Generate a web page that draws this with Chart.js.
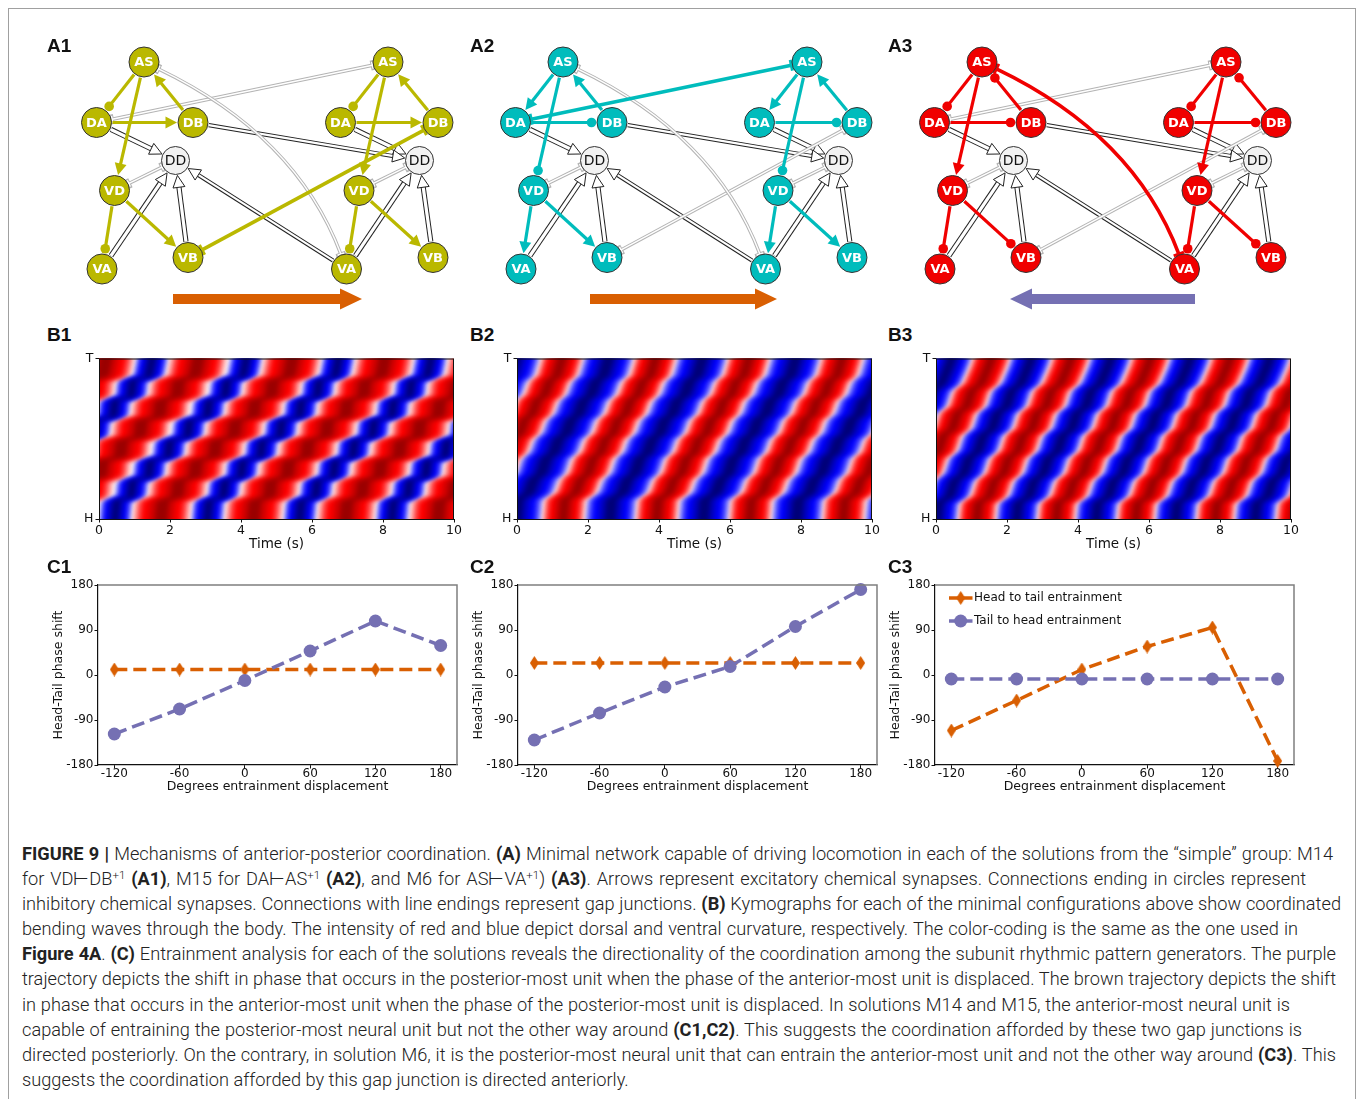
<!DOCTYPE html>
<html>
<head>
<meta charset="utf-8">
<script src="https://cdn.jsdelivr.net/npm/chart.js@4.4.1/dist/chart.umd.min.js"></script>
<style>
  body { margin: 0; background: #fff; width: 1358px; height: 1099px; overflow: hidden; position: relative; }
  .frame { position: absolute; left: 8px; top: 8px; width: 1346px; height: 1200px; border: 1px solid #a0a0a0; }
  .lbl { position: absolute; font: bold 19px 'Liberation Sans', Arial, sans-serif; line-height: 19px; color: #111; }
  canvas { position: absolute; }
  .cap { position: absolute; left: 22px; top: 841px; font: 300 18.2px Roboto, 'Liberation Sans', sans-serif; line-height: 25.1px; color: #222; }
  .cap div { white-space: nowrap; text-align: justify; text-align-last: justify; height: 25.1px; }
  .cap div.last { text-align-last: left; }
  .cap b { font-weight: 700; }
  .cap sup { font-size: 11.5px; line-height: 0; vertical-align: 6px; }
</style>
</head>
<body>
<div class="frame"></div>

<canvas id="a1" width="420" height="285" style="left:40px;top:30px"></canvas>
<canvas id="a2" width="420" height="285" style="left:459px;top:30px"></canvas>
<canvas id="a3" width="420" height="285" style="left:878px;top:30px"></canvas>
<canvas id="b1"></canvas>
<canvas id="b2"></canvas>
<canvas id="b3"></canvas>
<canvas id="c1"></canvas>
<canvas id="c2"></canvas>
<canvas id="c3"></canvas>

<div class="lbl" style="left:47px;top:36px">A1</div>
<div class="lbl" style="left:470px;top:36px">A2</div>
<div class="lbl" style="left:888px;top:36px">A3</div>
<div class="lbl" style="left:47px;top:325px">B1</div>
<div class="lbl" style="left:470px;top:325px">B2</div>
<div class="lbl" style="left:888px;top:325px">B3</div>
<div class="lbl" style="left:47px;top:557px">C1</div>
<div class="lbl" style="left:470px;top:557px">C2</div>
<div class="lbl" style="left:888px;top:557px">C3</div>

<div class="cap">
<div style="width:1311px"><b>FIGURE 9 |</b> Mechanisms of anterior-posterior coordination. <b>(A)</b> Minimal network capable of driving locomotion in each of the solutions from the “simple” group: M14</div>
<div style="width:1284px">for VD⊢DB<sup>+1</sup> <b>(A1)</b>, M15 for DA⊢AS<sup>+1</sup> <b>(A2)</b>, and M6 for AS⊢VA<sup>+1</sup>) <b>(A3)</b>. Arrows represent excitatory chemical synapses. Connections ending in circles represent</div>
<div style="width:1319px">inhibitory chemical synapses. Connections with line endings represent gap junctions. <b>(B)</b> Kymographs for each of the minimal configurations above show coordinated</div>
<div style="width:1276px">bending waves through the body. The intensity of red and blue depict dorsal and ventral curvature, respectively. The color-coding is the same as the one used in</div>
<div style="width:1314px"><b>Figure 4A</b>. <b>(C)</b> Entrainment analysis for each of the solutions reveals the directionality of the coordination among the subunit rhythmic pattern generators. The purple</div>
<div style="width:1314px">trajectory depicts the shift in phase that occurs in the posterior-most unit when the phase of the anterior-most unit is displaced. The brown trajectory depicts the shift</div>
<div style="width:1268px">in phase that occurs in the anterior-most unit when the phase of the posterior-most unit is displaced. In solutions M14 and M15, the anterior-most neural unit is</div>
<div style="width:1280px">capable of entraining the posterior-most neural unit but not the other way around <b>(C1,C2)</b>. This suggests the coordination afforded by these two gap junctions is</div>
<div style="width:1314px">directed posteriorly. On the contrary, in solution M6, it is the posterior-most neural unit that can entrain the anterior-most unit and not the other way around <b>(C3)</b>. This</div>
<div class="last">suggests the coordination afforded by this gap junction is directed anteriorly.</div>
</div>

<script>
// ---------- network (A) ----------
const nodeNames = ['AS', 'DA', 'DB', 'DD', 'VD', 'VA', 'VB', 'AS2', 'DA2', 'DB2', 'DD2', 'VD2', 'VA2', 'VB2'];
const nodeLabels = ['AS', 'DA', 'DB', 'DD', 'VD', 'VA', 'VB', 'AS', 'DA', 'DB', 'DD', 'VD', 'VA', 'VB'];
const nodeX = [104, 56.5, 153, 135.5, 74.5, 62, 148, 348, 300.5, 398, 379.5, 319, 306.5, 393];
const nodeY = [32, 92.5, 92.5, 130.5, 160.5, 239, 227.5, 32, 92.5, 92.5, 130.5, 160.5, 239, 227.5];

const hollowEdges = [['DA', 'DD'], ['VA', 'DD'], ['VB', 'DD'], ['DA2', 'DD2'], ['VA2', 'DD2'], ['VB2', 'DD2']];
const longHollowEdges = [['DB', 'DD2'], ['VA2', 'DD']];
const grayGapEdges = [['VD', 'DD'], ['VD2', 'DD2']];
const crossGaps = [['DA', 'AS2'], ['VB', 'DB2'], ['AS', 'VA2']];
const crossVia = [null, null, [256, 105]];

const a1Synapses = [['AS', 'DA', 'inh'], ['AS', 'VD', 'exc'], ['DB', 'AS', 'exc'], ['DA', 'DB', 'exc'], ['VD', 'VA', 'inh'], ['VD', 'VB', 'exc']];
const a2Synapses = [['AS', 'DA', 'exc'], ['AS', 'VD', 'inh'], ['DB', 'AS', 'exc'], ['DA', 'DB', 'inh'], ['VD', 'VA', 'exc'], ['VD', 'VB', 'exc']];
const a3Synapses = [['AS', 'DA', 'inh'], ['AS', 'VD', 'exc'], ['DB', 'AS', 'inh'], ['DA', 'DB', 'inh'], ['VD', 'VA', 'inh'], ['VD', 'VB', 'inh']];
const crossActive = [1, 0, 2];   // which inter-unit gap junction is part of the minimal network

const dirTail = [133, 131, 317];
const dirTip = [322, 318, 132];
const dirY = 269;

// ---------- kymographs (B) ----------
const b1RedStarts = [-3.5, -0.9, 1.75, 4.35, 6.95, 9.55];
const b1BlueStarts = [-4.8, -2.2, 0.45, 3.05, 5.65, 8.25];
const b1Delay = [[0, 0], [0.11, 0.05], [0.14, 0.45], [0.235, 0.5], [0.265, 0.95], [0.36, 1.0], [0.39, 1.5], [0.485, 1.55],
  [0.515, 2.05], [0.61, 2.1], [0.64, 2.6], [0.735, 2.65], [0.765, 3.1], [0.86, 3.15], [0.89, 3.6], [1, 3.7]];

const b2RedStarts = [-3.96, -1.33, 1.3, 3.93, 6.56, 9.19];
const b2BlueStarts = [-2.65, -0.02, 2.62, 5.25, 7.88, 10.51];
const b2Delay = [[0, 0], [0.12, 0.05], [0.16, 0.35], [0.25, 0.5], [0.28, 0.7], [0.38, 0.85], [0.41, 1.05], [0.5, 1.2],
  [0.53, 1.4], [0.62, 1.55], [0.65, 1.75], [0.74, 1.9], [0.77, 2.1], [0.86, 2.25], [0.89, 2.45], [1, 2.6]];

const b3RedStarts = [-3.33, -1.09, 1.15, 3.39, 5.63, 7.87, 10.11];
const b3BlueStarts = [-2.21, 0.03, 2.27, 4.51, 6.75, 8.99];
const b3Delay = [[0, 0], [0.1, 0.05], [0.14, 0.35], [0.24, 0.5], [0.28, 0.75], [0.38, 0.9], [0.42, 1.15], [0.52, 1.3],
  [0.56, 1.55], [0.66, 1.7], [0.7, 1.95], [0.8, 2.1], [0.84, 2.35], [0.94, 2.55], [1, 2.65]];

const kymoXTicks = [0, 2, 4, 6, 8, 10];

// ---------- entrainment (C) ----------
const cX = [-120, -60, 0, 60, 120, 180];
const cYTicks = [-180, -90, 0, 90, 180];
const c1Head = [11, 11, 11, 11, 11, 11];
const c1Tail = [-118, -68, -11, 48, 108, 59];
const c2Head = [24, 24, 24, 24, 24, 24];
const c2Tail = [-130, -76, -24, 17, 97, 171];
const c3Head = [-111, -51, 11, 57, 95, -172];
const c3Tail = [-8, -8, -8, -8, -8, -8];
const legendLabels = ['Head to tail entrainment', 'Tail to head entrainment'];

const ORANGE = '#d95f02';
const PURPLE = '#7570b3';
Chart.defaults.font.family = "'DejaVu Sans', sans-serif";

// ---------- network drawing ----------
function nodePos(name) {
  const i = nodeNames.indexOf(name);
  return [nodeX[i], nodeY[i]];
}
function nodeRad(name) {
  return name.startsWith('DD') ? 14 : 15;
}
function norm(v) {
  const l = Math.hypot(v[0], v[1]);
  return [v[0] / l, v[1] / l];
}

function makeNet(id, color, synapses, active, k) {
  const el = document.getElementById(id);

  function geom(chart, from, to, via) {
    const sx = v => chart.scales.x.getPixelForValue(v);
    const sy = v => chart.scales.y.getPixelForValue(v);
    const pa = nodePos(from), pb = nodePos(to);
    const a = [sx(pa[0]), sy(pa[1])], b = [sx(pb[0]), sy(pb[1])];
    const c = via ? [sx(via[0]), sy(via[1])] : null;
    const u0 = norm([(c || b)[0] - a[0], (c || b)[1] - a[1]]);
    const u1 = norm([b[0] - (c || a)[0], b[1] - (c || a)[1]]);
    const ra = nodeRad(from) + 1, rb = nodeRad(to) + 1;
    return {
      s: [a[0] + u0[0] * ra, a[1] + u0[1] * ra],
      e: [b[0] - u1[0] * rb, b[1] - u1[1] * rb],
      c, u0, u1
    };
  }
  function path(ctx, g, end, width, col) {
    ctx.beginPath();
    ctx.moveTo(g.s[0], g.s[1]);
    if (g.c) ctx.quadraticCurveTo(g.c[0], g.c[1], end[0], end[1]);
    else ctx.lineTo(end[0], end[1]);
    ctx.lineWidth = width;
    ctx.strokeStyle = col;
    ctx.stroke();
  }
  function head(ctx, tip, u, len, hw, fill, stroke) {
    const bx = tip[0] - u[0] * len, by = tip[1] - u[1] * len;
    ctx.beginPath();
    ctx.moveTo(tip[0], tip[1]);
    ctx.lineTo(bx - u[1] * hw, by + u[0] * hw);
    ctx.lineTo(bx + u[1] * hw, by - u[0] * hw);
    ctx.closePath();
    ctx.fillStyle = fill;
    ctx.fill();
    if (stroke) {
      ctx.lineWidth = 1;
      ctx.strokeStyle = stroke;
      ctx.stroke();
    }
  }
  function bar(ctx, p, u, half, width, col) {
    ctx.beginPath();
    ctx.moveTo(p[0] - u[1] * half, p[1] + u[0] * half);
    ctx.lineTo(p[0] + u[1] * half, p[1] - u[0] * half);
    ctx.lineWidth = width;
    ctx.strokeStyle = col;
    ctx.stroke();
  }
  function back(p, u, d) {
    return [p[0] - u[0] * d, p[1] - u[1] * d];
  }

  function hollow(ctx, g, w) {
    const base = back(g.e, g.u1, 11);
    path(ctx, g, base, w, '#222');
    path(ctx, g, base, w - 2, '#fff');
    head(ctx, g.e, g.u1, 12, 6, '#fff', '#222');
  }
  function grayGap(ctx, g) {
    const gray = '#b4b4b4';
    path(ctx, g, g.e, 3.4, gray);
    bar(ctx, g.s, g.u0, 5, 3.4, gray);
    bar(ctx, g.e, g.u1, 5, 3.4, gray);
    path(ctx, g, g.e, 1.4, '#fff');
    bar(ctx, g.s, g.u0, 3.5, 1.4, '#fff');
    bar(ctx, g.e, g.u1, 3.5, 1.4, '#fff');
  }
  function synapse(ctx, g, type) {
    if (type === 'exc') {
      path(ctx, g, back(g.e, g.u1, 10), 3.2, color);
      head(ctx, g.e, g.u1, 11.5, 6, color);
    } else if (type === 'inh') {
      const cc = back(g.e, g.u1, 4.5);
      path(ctx, g, cc, 3.2, color);
      ctx.beginPath();
      ctx.arc(cc[0], cc[1], 4.8, 0, Math.PI * 2);
      ctx.fillStyle = color;
      ctx.fill();
    } else {
      path(ctx, g, g.e, 3.6, color);
      bar(ctx, g.s, g.u0, 5.5, 3, color);
      bar(ctx, g.e, g.u1, 5.5, 3, color);
    }
  }

  const edges = {
    id: 'edges',
    beforeDatasetsDraw(chart) {
      const ctx = chart.ctx;
      ctx.save();
      ctx.lineCap = 'butt';
      ctx.lineJoin = 'miter';
      hollowEdges.forEach(([f, t]) => hollow(ctx, geom(chart, f, t), 5.2));
      longHollowEdges.forEach(([f, t]) => hollow(ctx, geom(chart, f, t), 4.2));
      grayGapEdges.forEach(([f, t]) => grayGap(ctx, geom(chart, f, t)));
      crossGaps.forEach(([f, t], i) => {
        if (i !== active) grayGap(ctx, geom(chart, f, t, crossVia[i]));
      });
      synapses.forEach(([f, t, type]) => {
        synapse(ctx, geom(chart, f, t), type);
        synapse(ctx, geom(chart, f + '2', t + '2'), type);
      });
      const [cf, ct] = crossGaps[active];
      synapse(ctx, geom(chart, cf, ct, crossVia[active]), 'gap');

      // direction of the travelling wave
      const sx = v => chart.scales.x.getPixelForValue(v);
      const y = chart.scales.y.getPixelForValue(dirY);
      const x0 = sx(dirTail[k]), x1 = sx(dirTip[k]);
      const sgn = Math.sign(x1 - x0);
      const xb = x1 - sgn * 22;
      ctx.beginPath();
      ctx.moveTo(x0, y - 5);
      ctx.lineTo(xb, y - 5);
      ctx.lineTo(xb, y - 10.5);
      ctx.lineTo(x1, y);
      ctx.lineTo(xb, y + 10.5);
      ctx.lineTo(xb, y + 5);
      ctx.lineTo(x0, y + 5);
      ctx.closePath();
      ctx.fillStyle = k === 2 ? PURPLE : ORANGE;
      ctx.fill();
      ctx.restore();
    },
    afterDatasetsDraw(chart) {
      const ctx = chart.ctx;
      ctx.save();
      ctx.textAlign = 'center';
      ctx.textBaseline = 'middle';
      nodeNames.forEach((n, i) => {
        const x = chart.scales.x.getPixelForValue(nodeX[i]);
        const y = chart.scales.y.getPixelForValue(nodeY[i]);
        if (n.startsWith('DD')) {
          ctx.font = "14px 'DejaVu Sans'";
          ctx.fillStyle = '#111';
        } else {
          ctx.font = "bold 13px 'DejaVu Sans'";
          ctx.fillStyle = '#fff';
        }
        ctx.fillText(nodeLabels[i], x, y + 1);
      });
      ctx.restore();
    }
  };

  new Chart(el, {
    type: 'scatter',
    data: {
      datasets: [{
        data: nodeNames.map((n, i) => ({x: nodeX[i], y: nodeY[i]})),
        pointRadius: nodeNames.map(nodeRad),
        pointBackgroundColor: nodeNames.map(n => n.startsWith('DD') ? '#f2f2f2' : color),
        pointBorderColor: '#333',
        pointBorderWidth: 1,
        clip: false
      }]
    },
    options: {
      responsive: false,
      animation: false,
      events: [],
      layout: {autoPadding: false, padding: 0},
      scales: {
        x: {type: 'linear', display: false, min: 0, max: 420},
        y: {type: 'linear', display: false, min: 0, max: 285, reverse: true}
      },
      plugins: {legend: {display: false}, tooltip: {enabled: false}}
    },
    plugins: [edges]
  });
}

makeNet('a1', 'rgb(186,184,0)', a1Synapses, crossActive[0], 0);
makeNet('a2', 'rgb(0,188,188)', a2Synapses, crossActive[1], 1);
makeNet('a3', 'rgb(240,0,0)', a3Synapses, crossActive[2], 2);

// ---------- kymograph drawing ----------
const redLayers = [[1, '#ffc4c4'], [0.86, '#ff5050'], [0.7, '#ff0000'], [0.45, '#d40000'], [0.22, '#9a0000']];
const blueLayers = [[1, '#c4c4ff'], [0.86, '#5050ff'], [0.7, '#0000ff'], [0.45, '#0000c4'], [0.22, '#000078']];

function bandSets(starts, delay, hw, layers) {
  const ext = [[-0.05, delay[0][1]], ...delay, [1.05, delay[delay.length - 1][1]]];
  const sets = [];
  starts.forEach(c => {
    layers.forEach(([f, col], li) => {
      const w = hw * f;
      const pts = ext.map(([p, d]) => ({x: c + d - w, y: p}));
      ext.slice().reverse().forEach(([p, d]) => pts.push({x: c + d + w, y: p}));
      sets.push({
        data: pts, showLine: true, fill: 'shape', backgroundColor: col,
        borderColor: 'transparent', borderWidth: 0, pointRadius: 0, order: layers.length - li
      });
    });
  });
  return sets;
}

const blurPlugin = {
  id: 'blur',
  beforeDatasetsDraw(chart) { chart.ctx.save(); chart.ctx.filter = 'blur(2.5px)'; },
  afterDatasetsDraw(chart) { chart.ctx.restore(); }
};

function axisFont(size) {
  return {family: "'DejaVu Sans', sans-serif", size};
}

function makeKymo(id, plotLeft, redStarts, redHW, blueStarts, blueHW, delay) {
  const el = document.getElementById(id);
  el.width = 385;
  el.height = 205;
  el.style.left = (plotLeft - 20) + 'px';
  el.style.top = '349px';
  const box = {
    id: 'box',
    afterDraw(chart) {
      const {left, top, width, height} = chart.chartArea;
      chart.ctx.save();
      chart.ctx.strokeStyle = '#111';
      chart.ctx.lineWidth = 1;
      chart.ctx.strokeRect(left + 0.5, top + 0.5, width - 1, height);
      chart.ctx.restore();
    }
  };
  new Chart(el, {
    type: 'scatter',
    data: {datasets: [...bandSets(redStarts, delay, redHW, redLayers), ...bandSets(blueStarts, delay, blueHW, blueLayers)]},
    options: {
      responsive: false,
      animation: false,
      events: [],
      layout: {autoPadding: false, padding: {left: 0, top: 8, right: 10, bottom: 0}},
      scales: {
        x: {
          type: 'linear', min: 0, max: 10,
          afterBuildTicks: s => { s.ticks = kymoXTicks.map(v => ({value: v})); },
          ticks: {color: '#111', font: axisFont(12.5), padding: 1, maxRotation: 0},
          grid: {drawOnChartArea: false, drawTicks: true, tickLength: 3.5, color: '#111'},
          border: {color: '#111', width: 1},
          title: {display: true, text: 'Time (s)', color: '#111', font: axisFont(13.5), padding: {top: 0, bottom: 1}},
          afterFit: s => { s.height = 35; }
        },
        y: {
          type: 'linear', min: 0, max: 1,
          afterBuildTicks: s => { s.ticks = [{value: 0}, {value: 1}]; },
          ticks: {color: '#111', font: axisFont(12.5), padding: 2, callback: v => (v === 1 ? 'T' : 'H')},
          grid: {drawOnChartArea: false, drawTicks: true, tickLength: 3.5, color: '#111'},
          border: {color: '#111', width: 1},
          afterFit: s => { s.width = 20; }
        }
      },
      plugins: {legend: {display: false}, tooltip: {enabled: false}}
    },
    plugins: [blurPlugin, box]
  });
}

makeKymo('b1', 99, b1RedStarts, 0.82, b1BlueStarts, 0.46, b1Delay);
makeKymo('b2', 517, b2RedStarts, 0.6, b2BlueStarts, 0.74, b2Delay);
makeKymo('b3', 936, b3RedStarts, 0.54, b3BlueStarts, 0.6, b3Delay);

// ---------- entrainment drawing ----------
function thinDiamond(color, w, h) {
  const c = document.createElement('canvas');
  c.width = w;
  c.height = h;
  const g = c.getContext('2d');
  g.fillStyle = color;
  g.beginPath();
  g.moveTo(w / 2, 0);
  g.lineTo(w, h / 2);
  g.lineTo(w / 2, h);
  g.lineTo(0, h / 2);
  g.closePath();
  g.fill();
  return c;
}
const diamond = thinDiamond(ORANGE, 9, 14);

function makeEntrain(id, plotLeft, head, tail, showLegend) {
  const el = document.getElementById(id);
  el.width = 419;
  el.height = 220;
  el.style.left = (plotLeft - 50) + 'px';
  el.style.top = '575px';

  const frame = {
    id: 'frame',
    afterDraw(chart) {
      const {left, right, top, bottom} = chart.chartArea;
      const ctx = chart.ctx;
      ctx.save();
      ctx.strokeStyle = '#7f7f7f';
      ctx.lineWidth = 1.5;
      ctx.beginPath();
      ctx.moveTo(left, top);
      ctx.lineTo(right, top);
      ctx.lineTo(right, bottom);
      ctx.stroke();
      if (showLegend) {
        const styles = [[ORANGE, diamond], [PURPLE, null]];
        ctx.font = "12px 'DejaVu Sans'";
        ctx.textBaseline = 'middle';
        styles.forEach(([col, img], i) => {
          const y = top + 13 + i * 23;
          ctx.strokeStyle = col;
          ctx.lineWidth = 3.5;
          ctx.beginPath();
          ctx.moveTo(left + 14, y);
          ctx.lineTo(left + 37.5, y);
          ctx.stroke();
          if (img) {
            ctx.drawImage(img, left + 25.7 - img.width / 2, y - img.height / 2);
          } else {
            ctx.beginPath();
            ctx.arc(left + 25.7, y, 6.5, 0, Math.PI * 2);
            ctx.fillStyle = col;
            ctx.fill();
          }
          ctx.fillStyle = '#111';
          ctx.fillText(legendLabels[i], left + 39, y);
        });
      }
      ctx.restore();
    }
  };

  new Chart(el, {
    type: 'scatter',
    data: {
      datasets: [{
        label: legendLabels[1],
        data: cX.map((x, i) => ({x, y: tail[i]})),
        showLine: true, borderColor: PURPLE, borderWidth: 3.5, borderDash: [13, 6],
        pointRadius: 6.5, pointBackgroundColor: PURPLE, pointBorderColor: PURPLE, pointBorderWidth: 0, clip: false
      }, {
        label: legendLabels[0],
        data: cX.map((x, i) => ({x, y: head[i]})),
        showLine: true, borderColor: ORANGE, borderWidth: 3.5, borderDash: [13, 6],
        pointStyle: diamond, pointRadius: 6, clip: false
      }]
    },
    options: {
      responsive: false,
      animation: false,
      events: [],
      layout: {autoPadding: false, padding: {left: 0, top: 10, right: 10, bottom: 0}},
      scales: {
        x: {
          type: 'linear', min: -135, max: 195,
          afterBuildTicks: s => { s.ticks = cX.map(v => ({value: v})); },
          ticks: {color: '#111', font: axisFont(12), padding: -2, maxRotation: 0},
          grid: {drawOnChartArea: false, drawTicks: true, tickLength: 3.5, color: '#111'},
          border: {color: '#111', width: 1.2},
          title: {display: true, text: 'Degrees entrainment displacement', color: '#111', font: axisFont(12.5), padding: {top: 0, bottom: 1}},
          afterFit: s => { s.height = 30; }
        },
        y: {
          type: 'linear', min: -180, max: 180,
          afterBuildTicks: s => { s.ticks = cYTicks.map(v => ({value: v})); },
          ticks: {color: '#111', font: axisFont(12), padding: 1},
          grid: {drawOnChartArea: false, drawTicks: true, tickLength: 3.5, color: '#111'},
          border: {color: '#111', width: 1.2},
          title: {display: true, text: 'Head-Tail phase shift', color: '#111', font: axisFont(12.5), padding: {top: 3, bottom: 0}},
          afterFit: s => { s.width = 50; }
        }
      },
      plugins: {legend: {display: false}, tooltip: {enabled: false}}
    },
    plugins: [frame]
  });
}

makeEntrain('c1', 98, c1Head, c1Tail, false);
makeEntrain('c2', 518, c2Head, c2Tail, false);
makeEntrain('c3', 935, c3Head, c3Tail, true);
</script>
</body>
</html>
